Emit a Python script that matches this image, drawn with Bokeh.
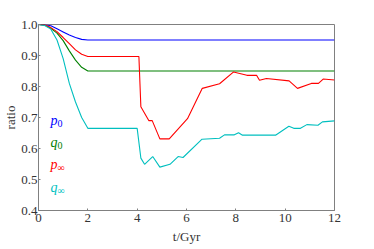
from bokeh.plotting import figure
from bokeh.models import Label, FixedTicker, NumeralTickFormatter, Range1d
from bokeh.embed import file_html
from bokeh.resources import INLINE

# ---- data ----
p0_t = [0, 0.25, 0.5, 0.75, 1.0, 1.25, 1.5, 1.75, 2.0, 12]
p0_v = [1.0, 0.999, 0.996, 0.986, 0.976, 0.966, 0.958, 0.952, 0.95, 0.95]

q0_t = [0, 0.25, 0.5, 0.75, 1.0, 1.25, 1.5, 1.75, 2.0, 12]
q0_v = [1.0, 0.998, 0.988, 0.972, 0.948, 0.915, 0.885, 0.862, 0.85, 0.85]

pinf_t = [0, 0.25, 0.5, 0.75, 1.0, 1.25, 1.5, 1.75, 2.0, 4.0, 4.07, 4.15, 4.47, 4.61,
          4.92, 5.30, 6.04, 6.64, 7.34, 7.91, 8.45, 8.84, 8.96, 9.24, 10.16, 10.5,
          11.06, 11.35, 11.54, 12.0]
pinf_v = [1.0, 0.999, 0.99, 0.977, 0.958, 0.938, 0.918, 0.904, 0.897, 0.897, 0.897, 0.735,
          0.69, 0.69, 0.631, 0.631, 0.696, 0.794, 0.809, 0.847, 0.836, 0.836, 0.82, 0.826,
          0.818, 0.794, 0.81, 0.81, 0.824, 0.821]

qinf_t = [0, 0.25, 0.5, 0.75, 1.0, 1.25, 1.5, 1.75, 2.0, 4.0, 4.15, 4.3, 4.63, 4.92,
          5.33, 5.66, 5.86, 6.63, 7.34, 7.54, 7.94, 8.11, 8.27, 9.61, 10.15, 10.35,
          10.62, 10.88, 11.33, 11.51, 12.0]
qinf_v = [1.0, 0.997, 0.985, 0.95, 0.89, 0.81, 0.75, 0.70, 0.665, 0.665, 0.569, 0.549,
          0.574, 0.54, 0.549, 0.574, 0.571, 0.630, 0.633, 0.644, 0.644, 0.651, 0.643,
          0.643, 0.672, 0.665, 0.665, 0.677, 0.675, 0.686, 0.689]

x_ticks = [0, 2, 4, 6, 8, 10, 12]
y_ticks = [0.4, 0.5, 0.6, 0.7, 0.8, 0.9, 1.0]

series = [
    (p0_t, p0_v, "#0000ff", "p", "0"),
    (q0_t, q0_v, "#008000", "q", "0"),
    (pinf_t, pinf_v, "#ff0000", "p", "\u221e"),
    (qinf_t, qinf_v, "#00bfbf", "q", "\u221e"),
]

FONT = "Liberation Serif"
AX = "#808080"
TXT = "#333333"

p = figure(width=366, height=246, output_backend="svg", toolbar_location=None,
           x_range=Range1d(0, 12), y_range=Range1d(0.4, 1.0),
           min_border_top=24, min_border_right=32, min_border_bottom=35, min_border_left=10)
p.background_fill_color = "white"
p.border_fill_color = "white"
p.outline_line_color = AX
p.outline_line_width = 1
p.xgrid.visible = False
p.ygrid.visible = False

for t, v, c, _, _ in series:
    p.line(t, v, line_color=c, line_width=1.1)

def style_axis(ax):
    ax.axis_line_color = AX
    ax.major_tick_line_color = AX
    ax.minor_tick_line_color = None
    ax.major_tick_in = 2
    ax.major_tick_out = 0
    ax.major_label_text_font = FONT
    ax.major_label_text_color = TXT
    ax.major_label_text_font_size = "13px"
    ax.major_label_standoff = 3
    ax.axis_label_text_font = FONT
    ax.axis_label_text_font_style = "normal"
    ax.axis_label_text_font_size = "13px"
    ax.axis_label_text_color = TXT

xa = p.xaxis[0]
xa.ticker = FixedTicker(ticks=x_ticks)
style_axis(xa)
xa.axis_label = "t/Gyr"
xa.axis_label_standoff = 4

ya = p.yaxis[0]
ya.ticker = FixedTicker(ticks=y_ticks)
ya.formatter = NumeralTickFormatter(format="0.0")
style_axis(ya)
ya.major_label_standoff = 1
ya.axis_label = "ratio"
ya.axis_label_standoff = 0

# colored text legend
legend_y = [90, 68, 46, 23]
for (t, v, c, main, sub), ly in zip(series, legend_y):
    p.add_layout(Label(x=12, y=ly, x_units="screen", y_units="screen", text=main,
                       text_font=FONT, text_font_style="italic", text_font_size="14px",
                       text_color=c, text_align="left", text_baseline="alphabetic"))
    p.add_layout(Label(x=19, y=ly - 3, x_units="screen", y_units="screen", text=sub,
                       text_font=FONT, text_font_size="10px",
                       text_color=c, text_align="left", text_baseline="alphabetic"))

open("out.html", "w").write(file_html(p, INLINE))
